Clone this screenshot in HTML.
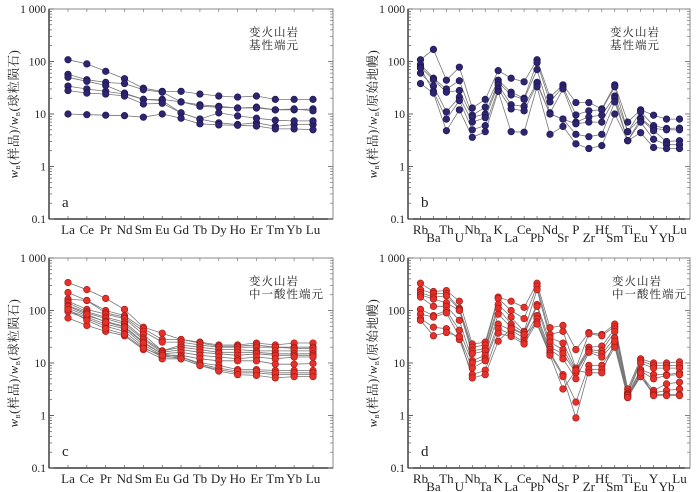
<!DOCTYPE html>
<html><head><meta charset="utf-8"><style>
html,body{margin:0;padding:0;background:#fff;width:700px;height:492px;overflow:hidden}
svg{display:block}
text{font-family:"Liberation Serif","Noto Serif CJK SC",serif;fill:#222}
</style></head><body>
<svg id="chart" width="700" height="492" viewBox="0 0 700 492"></svg>
<script>
const reeElements = ["La","Ce","Pr","Nd","Sm","Eu","Gd","Tb","Dy","Ho","Er","Tm","Yb","Lu"];
const traceElements = ["Rb","Ba","Th","U","Nb","Ta","K","La","Ce","Pb","Nd","Sr","P","Zr","Hf","Sm","Ti","Eu","Y","Yb","Lu"];
const yTickValues = [1000,100,10,1,0.1];
const yTickLabels = ["1 000","100","10","1","0.1"];
const reeBasic = [
 [108,90,65,47,31,27,27,24,22,21,22,19,19,19],
 [57,45,40,38,29,26,17,15,14,13,13.5,12,12,12.5],
 [50,42,35,25,19,19,17,14,13.5,13,13,12,12.5,11.5],
 [34,30,27,24,19,18,10.5,8,6.8,6.3,6.8,5.8,6.3,6.3],
 [28,25,24,22,15.5,16,10.5,8,10.5,9.2,8.3,7.6,7.4,7.4],
 [10,9.7,9.5,9.3,8.7,10,8.3,6.5,6.2,6.1,5.9,5.2,5.2,5.0]
];
const traceBasic = [
 [108,170,44,78,13,19,67,48,41,108,21,36,16.5,16.5,12.5,36,7,12,9.5,8,8],
 [88,48,30,43,9.5,13.5,44,26,20,95,17,33,9.6,11.5,12,33,4.6,11,6,5.3,5.4],
 [78,45,26,28,8.7,10,40,23,19,70,10.5,30,7,8.8,9.5,22,4.6,8.3,5.3,5,5],
 [60,34,11,21,7,8.5,36,15,14,40,10,8,6.5,7,7,20,3.1,8,4.8,3,3.1],
 [75,27,8,18,5,6,30,12.5,11.5,37,10,8,4.1,3.7,4.1,17,3.1,7,3.3,2.6,2.6],
 [38,25,4.8,12,3.6,4.6,27,4.6,4.5,33,4.1,5.8,2.7,2.2,2.5,10,3.1,4.4,2.3,2.2,2.2]
];
const reeAcid = [
 [340,250,170,105,48,37,28,25,22,22,24,22,24,24],
 [220,155,100,80,45,28,28,24,21,21,22,20,20,20],
 [165,155,90,75,40,25,25,22,20,20,20,20,19,19],
 [150,105,85,70,35,17,22,20,18,18,17,17,17,17],
 [140,95,75,60,30,17,20,18,16,16,16,15,15,15],
 [125,90,70,55,28,16,18,16,15,14,15,14,14,14],
 [110,80,62,50,25,15,16,14,13,12,13,12,13,13],
 [100,75,55,45,22,14,14,12,11,11,11,9.5,9.5,9.8],
 [95,70,50,40,20,13,13,10,9,7.5,7.5,7.2,7.2,7.2],
 [72,52,40,33,18,12,12,9,7.5,6.5,6.5,6,6,6],
 [120,85,60,48,24,15,13,9.5,8,7,7,6.5,6.5,6.5],
 [105,65,45,35,19,14,12,9,7,6,5.8,5.2,5.5,5.5]
];
const traceAcid = [
 [330,230,240,150,23,25,180,150,115,330,47,52,18,38,35,55,3.2,12,10,10,10.5],
 [250,210,210,110,20,22,170,100,70,290,35,40,8,36,33,50,2.8,11,9,9,9],
 [220,180,190,105,17,19,130,75,40,250,30,24,7.5,20,21,45,2.6,10,8,8,8],
 [200,165,140,100,15,17,110,55,38,130,25,18,7,18,17,40,2.5,7.5,6,6,6.5],
 [180,120,120,65,11,14,85,48,35,120,20,15,6.5,17,15,30,2.4,7,5,5.8,6],
 [105,80,100,42,10,12,55,42,30,80,18,12,5,16,13,25,2.3,6,3,4,4.3],
 [85,75,90,32,8,11,45,35,25,70,16,6,1.8,9,9,22,2.4,5.5,2.7,3,3.2],
 [70,48,45,28,6,7.3,37,32,23,60,15,5.5,0.9,7.5,7.5,20,2.2,5.5,2.5,2.5,2.5],
 [65,33,38,32,5.2,6,26,45,35,55,14,3.2,7.2,6.5,6.5,26,2.2,6.5,2.4,2.4,2.4]
];

const NS="http://www.w3.org/2000/svg";
const svg=document.getElementById('chart');
function mk(tag,attrs,parent){const e=document.createElementNS(NS,tag);for(const k in attrs)e.setAttribute(k,attrs[k]);(parent||svg).appendChild(e);return e;}

function panel(o){
  const g=mk('g',{});
  
  
  const yTop=o.yTop, yBot=o.yBot, L=o.left, R=o.right;
  const dec=(yBot-yTop)/4;
  const yS=v=>yBot-(Math.log10(v)+1)*dec;
  const n=o.cats.length;
  const xS=i=>o.x0+i*(o.x1-o.x0)/(n-1);
  const frame=mk('rect',{x:L,y:yTop,width:R-L,height:yBot-yTop,fill:'none',stroke:'#888','stroke-width':1},g);
  
  
  mk('line',{x1:L,y1:yTop,x2:L,y2:yBot,stroke:'#111','stroke-width':1.2},g);
  mk('line',{x1:L,y1:yBot,x2:R,y2:yBot,stroke:'#111','stroke-width':1.2},g);
  for(let d=-1;d<3;d++){for(let m=1;m<=10;m++){const v=m*Math.pow(10,d);const y=yS(v);const len=(m===1||m===10)?5:3;
    mk('line',{x1:L,y1:y,x2:L+len,y2:y,stroke:'#555','stroke-width':0.7},g);
    mk('line',{x1:R,y1:y,x2:R-len,y2:y,stroke:'#777','stroke-width':0.7},g);}}
  yTickValues.forEach((v,i)=>{const t=mk('text',{x:L-3,y:yS(v)+4,'text-anchor':'end','font-size':11.5},g);t.textContent=yTickLabels[i];
    
    });
  o.cats.forEach((c,i)=>{const x=xS(i);
    mk('line',{x1:x,y1:yBot,x2:x,y2:yBot-3,stroke:'#555','stroke-width':0.7},g);
    mk('line',{x1:x,y1:yTop,x2:x,y2:yTop+3,stroke:'#777','stroke-width':0.7},g);
    const low=o.stagger&&(i%2===1);
    const t=mk('text',{x:x,y:yBot+(low?23:15),'text-anchor':'middle','font-size':13},g);t.textContent=c;
    
    });
  o.series.forEach((s,si)=>{
    const pts=s.map((v,i)=>xS(i).toFixed(1)+','+yS(v).toFixed(1)).join(' ');
    const pl=mk('polyline',{points:pts,fill:'none',stroke:'#777','stroke-width':0.8},g);
    
    
  });
  o.series.forEach((s,si)=>{s.forEach((v,i)=>{
    const c=mk('circle',{cx:xS(i),cy:yS(v),r:3.3,fill:o.color,stroke:o.edge,'stroke-width':0.6},g);
    
    });});
  const yt=mk('text',{transform:`translate(${L-31},${(yTop+yBot)/2}) rotate(-90)`,'text-anchor':'middle','font-size':12.5,fill:'#444','letter-spacing':'0.6'},g);
  yt.innerHTML='<tspan font-style="italic">w</tspan><tspan font-size="6" dy="2">B</tspan><tspan dy="-2">(样品)/</tspan><tspan font-style="italic">w</tspan><tspan font-size="6" dy="2">B</tspan><tspan dy="-2">('+o.ref+')</tspan>';
  
  
  const a1=mk('text',{x:o.annX,y:yTop+27,'font-size':11.5,fill:'#333','letter-spacing':'1','font-family':'"Noto Serif CJK SC",serif'},g);a1.textContent='变火山岩';
  
  
  const a2=mk('text',{x:o.annX,y:yTop+40,'font-size':11.5,fill:'#333','letter-spacing':'1','font-family':'"Noto Serif CJK SC",serif'},g);a2.textContent=o.member;
  
  
  const pl=mk('text',{x:L+13,y:yBot-12,'font-size':15},g);pl.textContent=o.letter;
  
  
}
panel({name:'panel-a-ree',left:49,right:333,yTop:9,yBot:219,x0:68,x1:313,cats:reeElements,series:reeBasic,color:'#2e2570',edge:'#1a1450',ref:'球粒陨石',annX:249,member:'基性端元',letter:'a'});
panel({name:'panel-b-trace',left:408,right:690,yTop:9,yBot:219,x0:420.5,x1:679.5,cats:traceElements,series:traceBasic,color:'#2e2570',edge:'#1a1450',ref:'原始地幔',annX:610,member:'基性端元',letter:'b',stagger:true});
panel({name:'panel-c-ree',left:49,right:333,yTop:258,yBot:468,x0:68,x1:313,cats:reeElements,series:reeAcid,color:'#e8302a',edge:'#9a1a15',ref:'球粒陨石',annX:249,member:'中一酸性端元',letter:'c'});
panel({name:'panel-d-trace',left:408,right:690,yTop:258,yBot:468,x0:420.5,x1:679.5,cats:traceElements,series:traceAcid,color:'#e8302a',edge:'#9a1a15',ref:'原始地幔',annX:612,member:'中一酸性端元',letter:'d',stagger:true});
</script>
</body></html>
